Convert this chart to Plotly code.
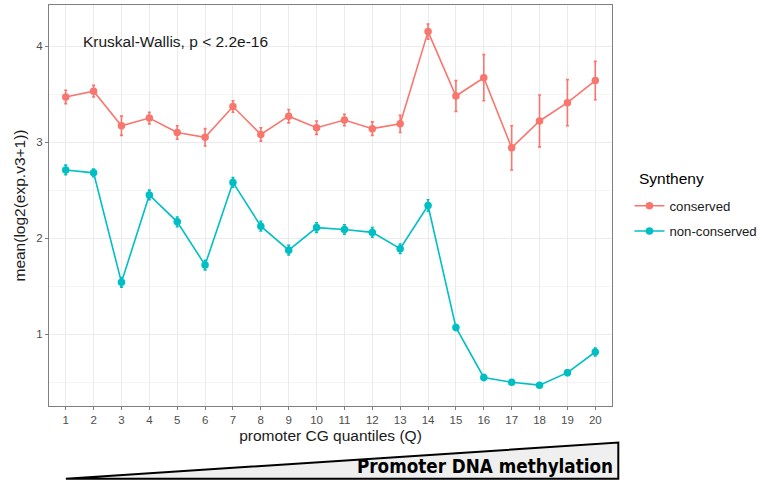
import plotly.graph_objects as go

quantiles = list(range(1, 21))
conserved_mean = [3.47, 3.53, 3.17, 3.25, 3.10, 3.05, 3.37, 3.08, 3.27, 3.15,
                  3.23, 3.14, 3.19, 4.15, 3.48, 3.67, 2.94, 3.22, 3.41, 3.64]
conserved_err = [0.07, 0.06, 0.10, 0.06, 0.07, 0.09, 0.06, 0.07, 0.07, 0.07,
                 0.06, 0.07, 0.09, 0.08, 0.16, 0.24, 0.23, 0.27, 0.24, 0.20]
nonconserved_mean = [2.71, 2.68, 1.54, 2.45, 2.17, 1.72, 2.58, 2.125, 1.875, 2.11,
                     2.09, 2.06, 1.89, 2.34, 1.07, 0.55, 0.50, 0.47, 0.60, 0.815]
nonconserved_err = [0.05, 0.04, 0.05, 0.05, 0.05, 0.05, 0.05, 0.05, 0.05, 0.05,
                    0.05, 0.05, 0.05, 0.06, 0.03, 0.03, 0.02, 0.02, 0.03, 0.04]

RED = "#F8766D"
TEAL = "#00BFC4"
FONT = "Liberation Sans, Arial, sans-serif"

fig = go.Figure()
for name, ys, es, col in [("conserved", conserved_mean, conserved_err, RED),
                          ("non-conserved", nonconserved_mean, nonconserved_err, TEAL)]:
    fig.add_trace(go.Scatter(
        x=quantiles, y=ys, name=name, legendgroup=name, mode="lines+markers",
        line=dict(color=col, width=1.6),
        marker=dict(color=col, size=7.5),
        error_y=dict(type="data", array=es, visible=True, color=col, thickness=1.6, width=1.5),
    ))

fig.add_annotation(x=1.55, y=4.05, xref="x", yref="y", text="Kruskal-Wallis, p < 2.2e-16",
                   showarrow=False, xanchor="left", yanchor="middle",
                   font=dict(family=FONT, size=15.5, color="#1a1a1a"))

# legend title
fig.add_annotation(x=1.045, y=0.5675, xref="paper", yref="paper", text="Syntheny",
                   showarrow=False, xanchor="left", yanchor="middle",
                   font=dict(family=FONT, size=15.5, color="black"))

# methylation wedge
fig.add_shape(type="path", xref="paper", yref="paper",
              path="M 0.030 -0.1812 L 1.0112 -0.0913 L 1.0112 -0.1812 Z",
              fillcolor="#efefef", line=dict(color="black", width=2))
fig.add_annotation(x=1.006, y=-0.150, xref="paper", yref="paper",
                   text="<b>Promoter DNA methylation</b>", showarrow=False,
                   xanchor="right", yanchor="middle",
                   font=dict(family="DejaVu Sans Condensed, Liberation Sans Narrow, Arial Narrow, sans-serif",
                             size=18.7, color="black"))

fig.update_layout(
    width=762, height=485,
    margin=dict(l=49, r=150, t=5, b=79, autoexpand=False),
    paper_bgcolor="white", plot_bgcolor="white",
    font=dict(family=FONT, color="black"),
    showlegend=True,
    legend=dict(x=1.031, xanchor="left", y=0.467, yanchor="middle",
                font=dict(size=13.2, color="#1a1a1a"), tracegroupgap=5, itemwidth=30,
                bgcolor="rgba(0,0,0,0)"),
    xaxis=dict(range=[0.4, 20.6], tickmode="array", tickvals=quantiles,
               ticktext=[str(q) for q in quantiles], automargin=False,
               showgrid=True, gridcolor="#ebebeb", gridwidth=1,
               zeroline=False, showline=True, linecolor="#7f7f7f", linewidth=1.2, mirror=True,
               ticks="outside", ticklen=3, tickcolor="#7f7f7f",
               tickfont=dict(size=11.5, color="#4d4d4d"),
               title=dict(text="promoter CG quantiles (Q)", font=dict(size=15.5, color="#1a1a1a"), standoff=5)),
    yaxis=dict(range=[0.253, 4.427], tickvals=[1, 2, 3, 4], automargin=False,
               showgrid=True, gridcolor="#ebebeb", gridwidth=1,
               minor=dict(tickvals=[0.5, 1.5, 2.5, 3.5], showgrid=True, gridcolor="#f4f4f4", gridwidth=1),
               zeroline=False, showline=True, linecolor="#7f7f7f", linewidth=1.2, mirror=True,
               ticks="outside", ticklen=3, tickcolor="#7f7f7f",
               tickfont=dict(size=11.5, color="#4d4d4d"),
               title=dict(text="mean(log2(exp.v3+1))", font=dict(size=15.5, color="#1a1a1a"), standoff=6)),
)

fig.write_html("out.html", config={"displayModeBar": False},
               post_script="document.body.style.margin='0';document.body.style.padding='0';")
